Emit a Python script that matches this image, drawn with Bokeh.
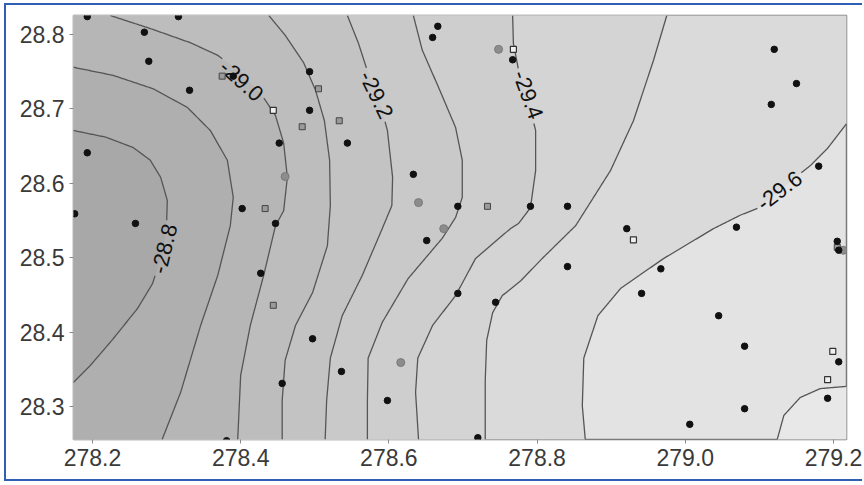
import math
from bokeh.plotting import figure
from bokeh.models import ColumnDataSource, FixedTicker, Range1d
from bokeh.core.properties import value
from bokeh.embed import file_html
from bokeh.resources import INLINE

# ---- map window (longitude, latitude) ----
x_lo, x_hi = 278.1744, 279.2175
y_lo, y_hi = 28.2556, 28.8255

x_ticks = [278.2, 278.4, 278.6, 278.8, 279.0, 279.2]
y_ticks = [28.3, 28.4, 28.5, 28.6, 28.7, 28.8]

# ---- isolines of the interpolated surface, one list of (lon, lat) per level ----
iso_m288 = [(278.174, 28.671), (278.218, 28.662), (278.255, 28.648), (278.278, 28.631),
            (278.292, 28.608), (278.301, 28.577), (278.300, 28.545), (278.296, 28.511),
            (278.281, 28.465), (278.261, 28.432), (278.228, 28.391), (278.197, 28.355),
            (278.174, 28.332)]
iso_m289 = [(278.174, 28.756), (278.228, 28.745), (278.282, 28.727), (278.328, 28.702),
            (278.359, 28.671), (278.382, 28.631), (278.390, 28.581), (278.386, 28.543),
            (278.369, 28.476), (278.346, 28.409), (278.319, 28.319), (278.294, 28.2556)]
iso_m290 = [(278.224, 28.8255), (278.278, 28.808), (278.332, 28.789), (278.369, 28.772),
            (278.400, 28.749), (278.429, 28.718), (278.447, 28.691), (278.458, 28.654),
            (278.463, 28.608), (278.458, 28.563), (278.447, 28.543), (278.431, 28.476),
            (278.413, 28.409), (278.400, 28.342), (278.396, 28.2556)]
iso_m291 = [(278.438, 28.8255), (278.460, 28.799), (278.485, 28.762), (278.501, 28.725),
            (278.513, 28.684), (278.520, 28.631), (278.521, 28.570), (278.517, 28.516),
            (278.497, 28.453), (278.474, 28.409), (278.460, 28.362), (278.456, 28.308),
            (278.456, 28.2556)]
iso_m292 = [(278.544, 28.8255), (278.559, 28.788), (278.570, 28.754), (278.586, 28.715),
            (278.598, 28.671), (278.605, 28.608), (278.604, 28.570), (278.591, 28.539),
            (278.564, 28.476), (278.537, 28.422), (278.521, 28.365), (278.516, 28.308),
            (278.514, 28.2556)]
iso_m293 = [(278.633, 28.8255), (278.645, 28.779), (278.667, 28.729), (278.690, 28.675),
            (278.699, 28.631), (278.699, 28.581), (278.690, 28.554), (278.672, 28.526),
            (278.626, 28.472), (278.591, 28.413), (278.572, 28.365), (278.571, 28.308),
            (278.571, 28.2556)]
iso_m294 = [(278.767, 28.8255), (278.768, 28.788), (278.775, 28.752), (278.788, 28.711),
            (278.798, 28.671), (278.798, 28.617), (278.791, 28.567), (278.775, 28.546),
            (278.764, 28.539), (278.717, 28.499), (278.690, 28.449), (278.659, 28.409),
            (278.639, 28.365), (278.636, 28.319), (278.640, 28.2556)]
iso_m295 = [(278.975, 28.8255), (278.957, 28.765), (278.930, 28.684), (278.899, 28.617),
            (278.859, 28.554), (278.852, 28.543), (278.807, 28.499), (278.778, 28.469),
            (278.753, 28.449), (278.740, 28.426), (278.732, 28.389), (278.730, 28.335),
            (278.730, 28.2556)]
iso_m296 = [(279.2175, 28.680), (279.192, 28.647), (279.169, 28.624), (279.135, 28.597),
            (279.099, 28.567), (279.074, 28.557), (279.038, 28.539), (278.971, 28.499),
            (278.913, 28.459), (278.882, 28.422), (278.863, 28.365), (278.861, 28.301),
            (278.865, 28.2556)]
iso_m297 = [(279.124, 28.2556), (279.133, 28.288), (279.155, 28.312), (279.182, 28.324),
            (279.2175, 28.327)]

# contour level values and the labelled ones
levels = [-28.8, -28.9, -29.0, -29.1, -29.2, -29.3, -29.4, -29.5, -29.6, -29.7]
label_levels = [-28.8, -29.0, -29.2, -29.4, -29.6]
label_lon = [278.297, 278.401, 278.583, 278.788, 279.127]
label_lat = [28.512, 28.738, 28.719, 28.719, 28.590]
label_angle = [1.33, -0.73, -1.12, -1.22, 0.65]

# ---- sample stations ----
blk_lon = [278.193, 278.316, 278.270, 278.276, 278.331, 278.390, 278.493, 278.493,
           278.452, 278.544, 278.193, 278.176, 278.258, 278.402, 278.447, 278.427,
           278.497, 278.456, 278.381, 278.666, 278.659, 278.767, 278.633, 278.693,
           278.791, 278.841, 278.651, 278.693, 278.744, 278.841, 278.536, 278.598,
           278.720, 279.120, 279.150, 279.116, 279.180, 279.069, 278.921, 278.967,
           278.941, 279.045, 279.080, 279.080, 279.006, 279.207, 279.192, 279.205,
           279.207]
blk_lat = [28.824, 28.824, 28.803, 28.764, 28.725, 28.744, 28.750, 28.698,
           28.654, 28.654, 28.641, 28.559, 28.546, 28.566, 28.546, 28.479,
           28.391, 28.331, 28.254, 28.811, 28.796, 28.766, 28.612, 28.569,
           28.569, 28.569, 28.523, 28.452, 28.440, 28.488, 28.347, 28.308,
           28.258, 28.780, 28.734, 28.706, 28.623, 28.541, 28.539, 28.485,
           28.452, 28.422, 28.381, 28.297, 28.276, 28.360, 28.311, 28.522,
           28.510]
sqf_lon = [278.375, 278.505, 278.483, 278.533, 278.433, 278.444, 278.733, 279.205]
sqf_lat = [28.744, 28.727, 28.676, 28.684, 28.566, 28.436, 28.569, 28.514]
sqo_lon = [278.444, 278.768, 278.930, 279.199, 279.192]
sqo_lat = [28.698, 28.780, 28.524, 28.374, 28.336]
gry_lon = [278.460, 278.748, 278.640, 278.674, 278.616, 279.213]
gry_lat = [28.609, 28.780, 28.574, 28.539, 28.359, 28.510]

# grey shades of the filled bands, lowest band first
band_colors = ["#e8e8e8", "#e3e3e3", "#dadada", "#d4d4d4", "#cecece", "#c9c9c9",
               "#c3c3c3", "#bdbdbd", "#b6b6b6", "#afafaf", "#a8a8a8"]

PLOT_W, PLOT_H = 858, 478
FRAME_L, FRAME_R, FRAME_T, FRAME_B = 67, 18, 10, 44

p = figure(width=PLOT_W, height=PLOT_H, output_backend="svg", toolbar_location=None,
           x_range=Range1d(x_lo, x_hi), y_range=Range1d(y_lo, y_hi),
           min_border_left=FRAME_L, min_border_right=FRAME_R, min_border_top=FRAME_T,
           min_border_bottom=FRAME_B, background_fill_color=band_colors[1],
           border_fill_color="white", outline_line_color="#7a7a7a",
           outline_line_width=1.5)
p.styles = {"border-top": "2px solid #2f5fb4", "border-left": "2px solid #2f5fb4",
            "border-bottom": "2px solid #2f5fb4", "margin-left": "4px", "margin-top": "3px"}
p.xgrid.visible = False
p.ygrid.visible = False

# ---- filled bands, drawn from each isoline towards its higher side ----
pad = 0.1
XL, XR, YB, YT = x_lo - pad, x_hi + pad, y_lo - pad, y_hi + pad


def push(pt, edge):
    x, y = pt
    return {"left": (XL, y), "right": (XR, y), "top": (x, YT), "bottom": (x, YB)}[edge]


def band_polygon(line, start_edge, end_edge, corners):
    pts = [push(line[0], start_edge)] + list(line) + [push(line[-1], end_edge)] + corners
    return [q[0] for q in pts], [q[1] for q in pts]


shapes = [
    (iso_m296, "right", "bottom", [(XL, YB), (XL, YT), (XR, YT)], band_colors[2]),
    (iso_m295, "top", "bottom", [(XL, YB), (XL, YT)], band_colors[3]),
    (iso_m294, "top", "bottom", [(XL, YB), (XL, YT)], band_colors[4]),
    (iso_m293, "top", "bottom", [(XL, YB), (XL, YT)], band_colors[5]),
    (iso_m292, "top", "bottom", [(XL, YB), (XL, YT)], band_colors[6]),
    (iso_m291, "top", "bottom", [(XL, YB), (XL, YT)], band_colors[7]),
    (iso_m290, "top", "bottom", [(XL, YB), (XL, YT)], band_colors[8]),
    (iso_m289, "left", "bottom", [(XL, YB)], band_colors[9]),
    (iso_m288, "left", "left", [], band_colors[10]),
    (iso_m297, "bottom", "right", [(XR, YB)], band_colors[0]),
]
pxs, pys, pcol = [], [], []
for line, s_edge, e_edge, corners, col in shapes:
    xs, ys = band_polygon(line, s_edge, e_edge, corners)
    pxs.append(xs)
    pys.append(ys)
    pcol.append(col)
p.patches(pxs, pys, fill_color=pcol, line_color=None)

# ---- isolines, with a gap left where a level label sits ----
px_per_x = (PLOT_W - FRAME_L - FRAME_R) / (x_hi - x_lo)
px_per_y = (PLOT_H - FRAME_T - FRAME_B) / (y_hi - y_lo)
LABEL_FONT_PX = 22


def label_box(i):
    txt = f"{label_levels[i]:.1f}"
    half_w = 0.5 * LABEL_FONT_PX * (0.333 + 0.556 * (len(txt) - 2) + 0.278) + 3
    return label_lon[i], label_lat[i], label_angle[i], half_w, 9.0


boxes = [label_box(i) for i in range(len(label_levels))]


def hidden(x, y):
    for cx, cy, ang, hw, hh in boxes:
        dx = (x - cx) * px_per_x
        dy = (y - cy) * px_per_y
        u = dx * math.cos(ang) + dy * math.sin(ang)
        v = -dx * math.sin(ang) + dy * math.cos(ang)
        if abs(u) <= hw and abs(v) <= hh:
            return True
    return False


def stroke_pieces(line, steps=30):
    pieces, cur = [], []
    for (x0, y0), (x1, y1) in zip(line[:-1], line[1:]):
        for k in range(steps + 1):
            t = k / steps
            x, y = x0 + (x1 - x0) * t, y0 + (y1 - y0) * t
            if hidden(x, y):
                if len(cur) > 1:
                    pieces.append(cur)
                cur = []
            else:
                cur.append((x, y))
    if len(cur) > 1:
        pieces.append(cur)
    return pieces


all_iso = [iso_m288, iso_m289, iso_m290, iso_m291, iso_m292,
           iso_m293, iso_m294, iso_m295, iso_m296, iso_m297]
sx, sy = [], []
for line in all_iso:
    for piece in stroke_pieces(line):
        sx.append([q[0] for q in piece])
        sy.append([q[1] for q in piece])
p.multi_line(sx, sy, line_color="#555555", line_width=1.3)

# ---- level labels on the isolines ----
lab = ColumnDataSource(dict(x=label_lon, y=label_lat,
                            text=[f"{v:.1f}" for v in label_levels],
                            angle=label_angle))
p.text(x="x", y="y", text="text", angle="angle", source=lab,
       text_font=value("Liberation Sans"), text_font_size=f"{LABEL_FONT_PX}px",
       text_color="#111111", text_align="center", text_baseline="middle")

# ---- stations ----
p.scatter(gry_lon, gry_lat, marker="circle", size=8, fill_color="#8c8c8c",
          line_color="#7a7a7a", line_width=1)
p.scatter(sqf_lon, sqf_lat, marker="square", size=6, fill_color="#9a9a9a",
          line_color="#444444", line_width=1)
p.scatter(sqo_lon, sqo_lat, marker="square", size=6, fill_color="#f0f0f0",
          line_color="#333333", line_width=1.2)
p.scatter(blk_lon, blk_lat, marker="circle", size=6.5, fill_color="#111111",
          line_color="#111111")

# ---- axes ----
for ax in (p.xaxis[0], p.yaxis[0]):
    ax.major_label_text_font = "Liberation Sans"
    ax.major_label_text_font_size = "23px"
    ax.major_label_text_color = "#3a3a3a"
    ax.axis_line_color = None
    ax.major_tick_line_color = "#8a8a8a"
    ax.major_tick_out = 4
    ax.major_tick_in = 0
    ax.minor_tick_line_color = None
    ax.major_label_standoff = 5
p.xaxis[0].ticker = FixedTicker(ticks=x_ticks)
p.yaxis[0].ticker = FixedTicker(ticks=y_ticks)
p.xaxis[0].major_label_overrides = {t: f"{t:.1f}" for t in x_ticks}
p.yaxis[0].major_label_overrides = {t: f"{t:.1f}" for t in y_ticks}

open("out.html", "w").write(file_html(p, INLINE))
